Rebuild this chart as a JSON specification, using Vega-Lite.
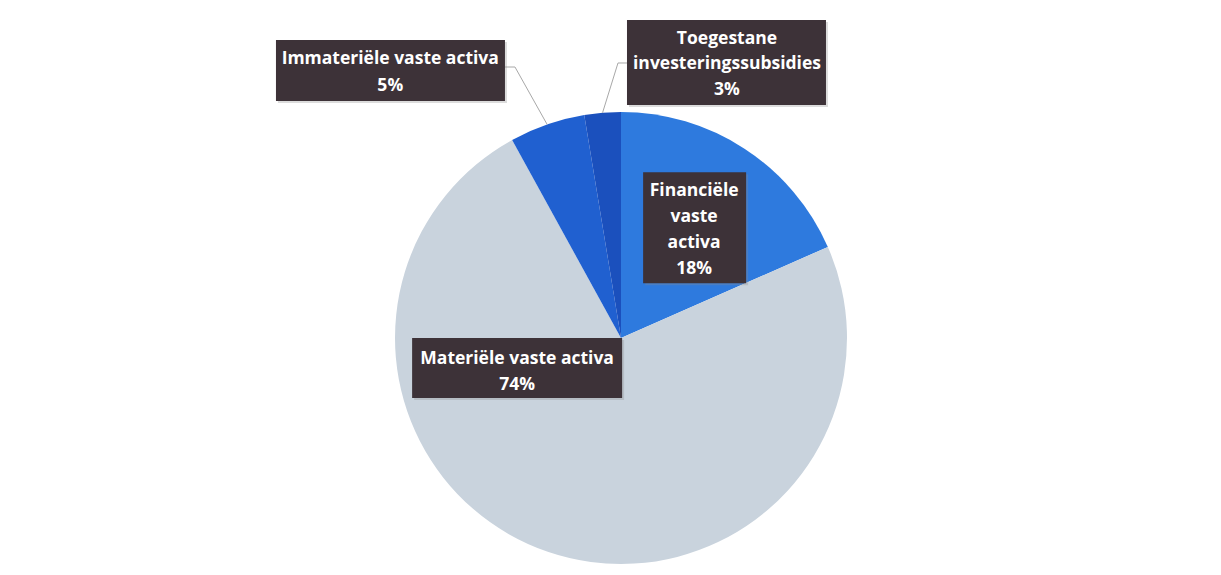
{
  "$schema": "https://vega.github.io/schema/vega-lite/v6.json",
  "width": 1221,
  "height": 575,
  "autosize": {"type": "none"},
  "padding": 0,
  "background": "#ffffff",
  "config": {"view": {"stroke": null}},
  "data": {
    "values": [
      {"category": "Financiële vaste activa", "naam": "Financiële\nvaste\nactiva", "value": 18.4},
      {"category": "Materiële vaste activa", "naam": "Materiële vaste activa", "value": 73.6},
      {"category": "Immateriële vaste activa", "naam": "Immateriële vaste activa", "value": 5.4},
      {"category": "Toegestane investeringssubsidies", "naam": "Toegestane\ninvesteringssubsidies", "value": 2.6}
    ]
  },
  "transform": [
    {"window": [{"op": "row_number", "as": "idx"}]},
    {"stack": "value", "groupby": [], "sort": [{"field": "idx", "order": "ascending"}], "as": ["v0", "v1"]},
    {"calculate": "PI * (datum.v0 + datum.v1) / 100", "as": "mid"},
    {"calculate": "sin(datum.mid)", "as": "ex"},
    {"calculate": "cos(datum.mid)", "as": "ey"},
    {"calculate": "datum.category == 'Financiële vaste activa' ? 0.58 : datum.category == 'Materiële vaste activa' ? 0.15 : datum.category == 'Immateriële vaste activa' ? 1.2688 : 1.2209", "as": "f"},
    {"calculate": "datum.f * sin(datum.mid)", "as": "ax"},
    {"calculate": "datum.f * cos(datum.mid)", "as": "ay"},
    {"calculate": "datum.ax + (datum.category == 'Immateriële vaste activa' ? -0.0544 : datum.category == 'Toegestane investeringssubsidies' ? 0.0863 : 0)", "as": "bx"},
    {"calculate": "datum.ax + (datum.category == 'Immateriële vaste activa' ? -0.0987 : datum.category == 'Toegestane investeringssubsidies' ? 0.1261 : 0)", "as": "kx"},
    {"calculate": "datum.naam + '\\n' + round(datum.value) + '%'", "as": "txt"}
  ],
  "layer": [
    {
      "mark": {"type": "arc", "outerRadius": 226},
      "encoding": {
        "x": {"datum": 0, "type": "quantitative", "scale": {"domain": [-2.74779, 2.65487], "nice": false, "zero": false}, "axis": null},
        "y": {"datum": 0, "type": "quantitative", "scale": {"domain": [-1.04867, 1.49558], "nice": false, "zero": false}, "axis": null},
        "theta": {"field": "v0", "type": "quantitative", "scale": {"domain": [0, 100], "range": [0, 6.283185307179586]}},
        "theta2": {"field": "v1"},
        "color": {
          "field": "category",
          "type": "nominal",
          "scale": {
            "domain": ["Financiële vaste activa", "Materiële vaste activa", "Immateriële vaste activa", "Toegestane investeringssubsidies"],
            "range": ["#2e7ade", "#c9d3dd", "#2060d0", "#1b50bd"]
          },
          "legend": null
        }
      }
    },
    {
      "transform": [{"filter": "datum.f > 1"}],
      "mark": {"type": "rule", "color": "#a8a8a8", "strokeWidth": 1},
      "encoding": {
        "x": {"field": "ex", "type": "quantitative", "scale": {"domain": [-2.74779, 2.65487], "nice": false, "zero": false}, "axis": null},
        "y": {"field": "ey", "type": "quantitative", "scale": {"domain": [-1.04867, 1.49558], "nice": false, "zero": false}, "axis": null},
        "x2": {"field": "bx"},
        "y2": {"field": "ay"}
      }
    },
    {
      "transform": [{"filter": "datum.f > 1"}],
      "mark": {"type": "rule", "color": "#a8a8a8", "strokeWidth": 1},
      "encoding": {
        "x": {"field": "bx", "type": "quantitative", "scale": {"domain": [-2.74779, 2.65487], "nice": false, "zero": false}, "axis": null},
        "y": {"field": "ay", "type": "quantitative", "scale": {"domain": [-1.04867, 1.49558], "nice": false, "zero": false}, "axis": null},
        "x2": {"field": "kx"},
        "y2": {"field": "ay"}
      }
    },
    {
      "mark": {"type": "point", "filled": true, "opacity": 0.3, "size": 4, "color": "#8a8a8a", "strokeWidth": 0, "xOffset": 2, "yOffset": 2},
      "encoding": {
        "x": {"field": "ax", "type": "quantitative", "scale": {"domain": [-2.74779, 2.65487], "nice": false, "zero": false}, "axis": null},
        "y": {"field": "ay", "type": "quantitative", "scale": {"domain": [-1.04867, 1.49558], "nice": false, "zero": false}, "axis": null},
        "shape": {
          "field": "category",
          "type": "nominal",
          "scale": {
            "domain": ["Financiële vaste activa", "Materiële vaste activa", "Immateriële vaste activa", "Toegestane investeringssubsidies"],
            "range": ["M-49.5,-56H53.5V55H-49.5Z", "M-198,-32H12V28H-198Z", "M-251.3,-27H-22.3V34H-251.3Z", "M28.5,-43H227.5V42H28.5Z"]
          },
          "legend": null
        }
      }
    },
    {
      "mark": {"type": "point", "filled": true, "opacity": 1, "size": 4, "color": "#3d3238", "strokeWidth": 0},
      "encoding": {
        "x": {"field": "ax", "type": "quantitative", "scale": {"domain": [-2.74779, 2.65487], "nice": false, "zero": false}, "axis": null},
        "y": {"field": "ay", "type": "quantitative", "scale": {"domain": [-1.04867, 1.49558], "nice": false, "zero": false}, "axis": null},
        "shape": {
          "field": "category",
          "type": "nominal",
          "scale": {
            "domain": ["Financiële vaste activa", "Materiële vaste activa", "Immateriële vaste activa", "Toegestane investeringssubsidies"],
            "range": ["M-49.5,-56H53.5V55H-49.5Z", "M-198,-32H12V28H-198Z", "M-251.3,-27H-22.3V34H-251.3Z", "M28.5,-43H227.5V42H28.5Z"]
          },
          "legend": null
        }
      }
    },
    {
      "transform": [{"filter": "datum.category == 'Financiële vaste activa'"}],
      "mark": {"type": "text", "dx": 1.5, "dy": -37, "font": "Open Sans", "fontSize": 17.5, "fontWeight": "bold", "color": "#ffffff", "lineBreak": "\n", "lineHeight": 26, "align": "center", "baseline": "middle"},
      "encoding": {
        "x": {"field": "ax", "type": "quantitative", "scale": {"domain": [-2.74779, 2.65487], "nice": false, "zero": false}, "axis": null},
        "y": {"field": "ay", "type": "quantitative", "scale": {"domain": [-1.04867, 1.49558], "nice": false, "zero": false}, "axis": null},
        "text": {"field": "txt"}
      }
    },
    {
      "transform": [{"filter": "datum.category == 'Materiële vaste activa'"}],
      "mark": {"type": "text", "dx": -93, "dy": -11, "font": "Open Sans", "fontSize": 17.5, "fontWeight": "bold", "color": "#ffffff", "lineBreak": "\n", "lineHeight": 26, "align": "center", "baseline": "middle"},
      "encoding": {
        "x": {"field": "ax", "type": "quantitative", "scale": {"domain": [-2.74779, 2.65487], "nice": false, "zero": false}, "axis": null},
        "y": {"field": "ay", "type": "quantitative", "scale": {"domain": [-1.04867, 1.49558], "nice": false, "zero": false}, "axis": null},
        "text": {"field": "txt"}
      }
    },
    {
      "transform": [{"filter": "datum.category == 'Immateriële vaste activa'"}],
      "mark": {"type": "text", "dx": -137, "dy": -8, "font": "Open Sans", "fontSize": 17.5, "fontWeight": "bold", "color": "#ffffff", "lineBreak": "\n", "lineHeight": 26.5, "align": "center", "baseline": "middle"},
      "encoding": {
        "x": {"field": "ax", "type": "quantitative", "scale": {"domain": [-2.74779, 2.65487], "nice": false, "zero": false}, "axis": null},
        "y": {"field": "ay", "type": "quantitative", "scale": {"domain": [-1.04867, 1.49558], "nice": false, "zero": false}, "axis": null},
        "text": {"field": "txt"}
      }
    },
    {
      "transform": [{"filter": "datum.category == 'Toegestane investeringssubsidies'"}],
      "mark": {"type": "text", "dx": 128.5, "dy": -24, "font": "Open Sans", "fontSize": 17.5, "fontWeight": "bold", "color": "#ffffff", "lineBreak": "\n", "lineHeight": 25.5, "align": "center", "baseline": "middle"},
      "encoding": {
        "x": {"field": "ax", "type": "quantitative", "scale": {"domain": [-2.74779, 2.65487], "nice": false, "zero": false}, "axis": null},
        "y": {"field": "ay", "type": "quantitative", "scale": {"domain": [-1.04867, 1.49558], "nice": false, "zero": false}, "axis": null},
        "text": {"field": "txt"}
      }
    }
  ]
}
